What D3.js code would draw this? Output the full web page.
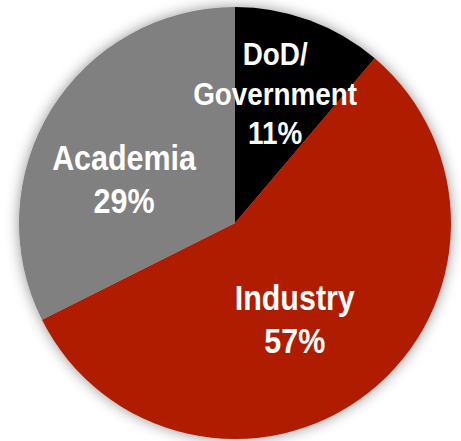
<!DOCTYPE html>
<html>
<head>
<meta charset="utf-8">
<script src="https://cdn.jsdelivr.net/npm/d3@7"></script>
<style>
  html, body { margin: 0; padding: 0; background: #ffffff; }
  svg { display: block; }
</style>
</head>
<body>
<svg id="chart" width="461" height="441"></svg>
<script>
// ---- data ----
const categories = ["DoD/Government", "Industry", "Academia"];
const labelLines = [["DoD/", "Government", "11%"], ["Industry", "57%"], ["Academia", "29%"]];
// slice sizes as drawn (angular share of the pie, %)
const shares = [11.2, 56.4, 32.4];
const colors = ["#000000", "#B01E00", "#808080"];

// ---- layout / style ----
const W = 461, H = 441;
const cx = 235, cy = 223, R = 216;
const labelStyle = [
  { size: 32, lh: 39.5, nudge: [-6, -4] },
  { size: 35, lh: 43, nudge: [-23, -9] },
  { size: 35, lh: 43, nudge: [3, 26] }
];
const scaleX = 0.87;

const svg = d3.select("#chart");
const defs = svg.append("defs");
const f = defs.append("filter").attr("id", "glow")
  .attr("x", "-20%").attr("y", "-20%").attr("width", "140%").attr("height", "140%");
f.append("feDropShadow").attr("dx", 0).attr("dy", 0)
  .attr("stdDeviation", 7).attr("flood-color", "#000").attr("flood-opacity", 0.42);

const pie = d3.pie().sort(null).value(d => d);
const arcs = pie(shares);
const arc = d3.arc().innerRadius(0).outerRadius(R);
const labelArc = d3.arc().innerRadius(R * 0.62).outerRadius(R * 0.62);

const g = svg.append("g").attr("transform", `translate(${cx},${cy})`);
g.append("g").attr("filter", "url(#glow)")
  .selectAll("path").data(arcs).join("path")
  .attr("d", arc)
  .attr("fill", (d, i) => colors[i]);

arcs.forEach((d, i) => {
  const [x0, y0] = labelArc.centroid(d);
  const st = labelStyle[i];
  const x = x0 + st.nudge[0], y = y0 + st.nudge[1];
  const lines = labelLines[i];
  const cap = st.size * 0.716;
  const firstBase = y - (lines.length - 1) * st.lh / 2 + cap / 2;
  const t = g.append("text")
    .attr("transform", `translate(${x},0) scale(${scaleX},1)`)
    .attr("text-anchor", "middle")
    .attr("fill", "#ffffff")
    .attr("font-family", "'Liberation Sans', Arial, sans-serif")
    .attr("font-weight", "bold")
    .attr("font-size", st.size);
  lines.forEach((ln, k) => {
    t.append("tspan").attr("x", 0).attr("y", firstBase + k * st.lh).text(ln);
  });
});
</script>
</body>
</html>
